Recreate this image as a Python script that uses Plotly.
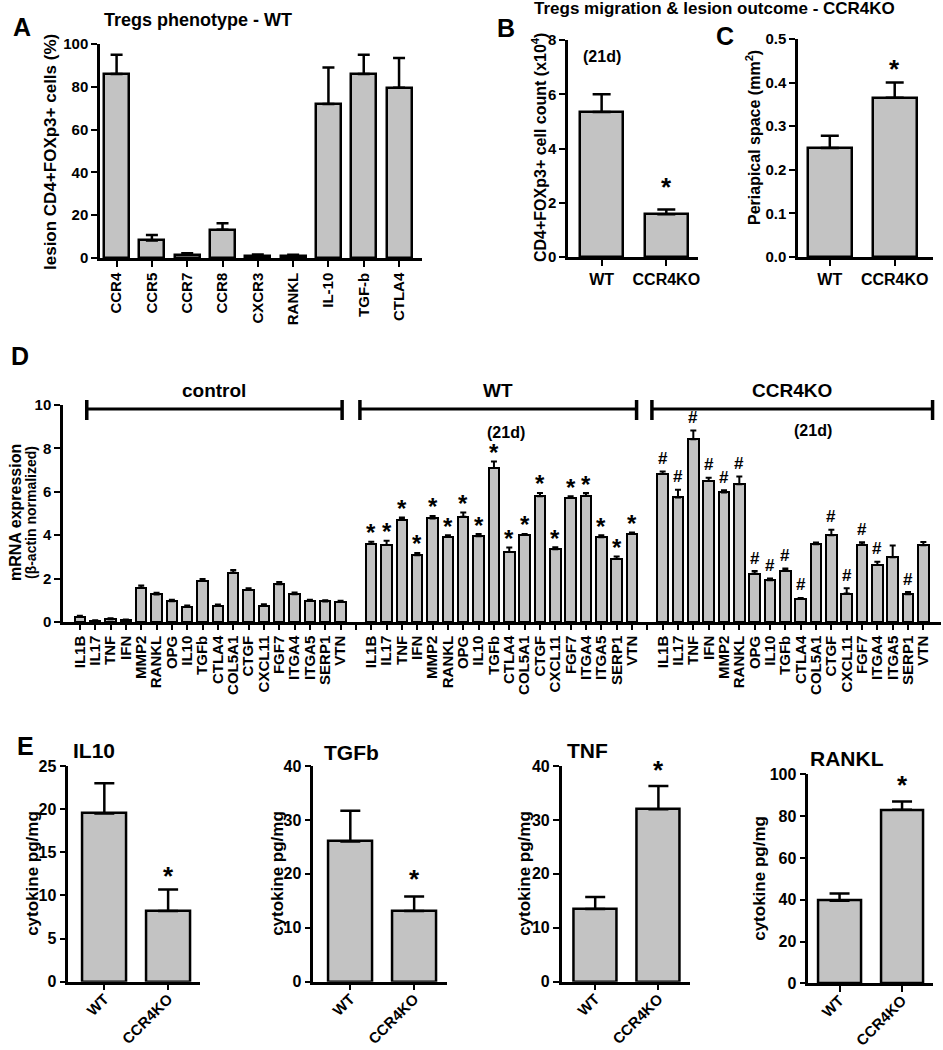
import plotly.graph_objects as go

W, H = 943, 1050
FONT = "Liberation Sans, Arial, sans-serif"

# ---------------- data ----------------
a_cats = ["CCR4", "CCR5", "CCR7", "CCR8", "CXCR3", "RANKL", "IL-10", "TGF-b", "CTLA4"]
a_vals = [86, 8.2, 1.5, 13.2, 1.0, 1.0, 72, 86, 79.5]
a_err = [9, 2.5, 0.7, 3.0, 0.6, 0.5, 17, 9, 14]

bc_groups = ["WT", "CCR4KO"]
b_vals = [5.35, 1.58]
b_err = [0.65, 0.17]
c_vals = [0.25, 0.365]
c_err = [0.028, 0.035]

genes = ["IL1B", "IL17", "TNF", "IFN", "MMP2", "RANKL", "OPG", "IL10", "TGFb",
         "CTLA4", "COL5A1", "CTGF", "CXCL11", "FGF7", "ITGA4", "ITGA5", "SERP1", "VTN"]
d_control = [0.23, 0.05, 0.13, 0.08, 1.58, 1.27, 0.96, 0.70, 1.90, 0.75, 2.28, 1.47,
             0.75, 1.74, 1.28, 0.97, 0.95, 0.93]
d_control_err = [0.06, 0.03, 0.04, 0.03, 0.10, 0.08, 0.06, 0.06, 0.08, 0.06, 0.12, 0.09,
                 0.07, 0.10, 0.08, 0.05, 0.05, 0.05]
d_wt = [3.60, 3.55, 4.72, 3.08, 4.77, 3.92, 4.85, 3.95, 7.10, 3.23, 4.03, 5.80,
        3.35, 5.72, 5.82, 3.90, 2.90, 4.07]
d_wt_err = [0.10, 0.20, 0.10, 0.10, 0.12, 0.08, 0.20, 0.10, 0.30, 0.20, 0.03, 0.15,
            0.10, 0.08, 0.12, 0.10, 0.12, 0.06]
d_ko = [6.82, 5.74, 8.42, 6.50, 5.97, 6.35, 2.23, 1.92, 2.37, 1.08, 3.58, 4.00,
        1.31, 3.57, 2.63, 2.98, 1.28, 3.54]
d_ko_err = [0.12, 0.35, 0.40, 0.15, 0.10, 0.35, 0.12, 0.08, 0.10, 0.03, 0.08, 0.25,
            0.25, 0.10, 0.15, 0.55, 0.10, 0.15]
d_wt_sig = ["*"] * 18
d_ko_sig = ["#", "#", "#", "#", "#", "#", "#", "#", "#", "#", "", "#", "#", "#", "#", "", "#", ""]

e_names = ["IL10", "TGFb", "TNF", "RANKL"]
e_wt = [19.5, 26.0, 13.5, 39.5]
e_wt_err = [3.5, 5.7, 2.2, 3.5]
e_ko = [8.2, 13.1, 32.0, 83.0]
e_ko_err = [2.5, 2.7, 4.3, 4.0]
e_ymax = [25, 40, 40, 100]
e_dtick = [5, 10, 10, 20]

# ---------------- helpers ----------------
def px(x):
    return x / W

def py(y):
    return 1 - y / H

def tfont(size=14):
    return dict(family=FONT, size=size, color="black", weight="bold")

def axis(dom, rng, **kw):
    d = dict(domain=dom, range=rng, showline=True, linecolor="black", linewidth=2.5,
             ticks="outside", ticklen=6, tickwidth=2, tickcolor="black",
             showgrid=False, zeroline=False, tickfont=tfont(14), fixedrange=True,
             automargin=False)
    d.update(kw)
    return d

BAR_FILL = "#c3c3c3"

def bars(x, y, err, xa, ya, width, lw=2.5, cap=6, eth=2.5):
    return go.Bar(x=x, y=y, xaxis=xa, yaxis=ya, width=width,
                  marker=dict(color=BAR_FILL, line=dict(color="black", width=lw)),
                  error_y=dict(type="data", symmetric=False, array=err,
                               arrayminus=[0] * len(err), color="black",
                               thickness=eth, width=cap),
                  showlegend=False, hoverinfo="skip")

fig = go.Figure()
ann = []
shapes = []

def star(xa, ya, x, y, text, shift, size=24):
    ann.append(dict(xref=xa, yref=ya, x=x, y=y, text=text, showarrow=False,
                    yanchor="middle", yshift=shift, font=tfont(size)))

def label(x, y, text, size, angle=0, xanchor="center"):
    ann.append(dict(xref="paper", yref="paper", x=px(x), y=py(y), text=text,
                    showarrow=False, textangle=angle, xanchor=xanchor,
                    yanchor="middle", font=tfont(size)))

# ---------------- Panel A ----------------
fig.add_trace(bars(a_cats, a_vals, a_err, "x", "y", 0.71, cap=6))
layout = dict(
    xaxis=axis([px(100), px(422)], [-0.47, 8.65], anchor="y", tickangle=-90,
               tickfont=tfont(15)),
    yaxis=axis([py(258), py(44)], [0, 100], anchor="x", dtick=20, tickfont=tfont(15)),
)

# ---------------- Panel B ----------------
fig.add_trace(bars(bc_groups, b_vals, b_err, "x2", "y2", 0.66, cap=9))
layout["xaxis2"] = axis([px(568), px(698)], [-0.52, 1.49], anchor="y2", tickfont=tfont(16))
layout["yaxis2"] = axis([py(257), py(40)], [0, 8], anchor="x2", dtick=2, tickfont=tfont(15))
star("x2", "y2", "CCR4KO", b_vals[1] + b_err[1], "*", 23, size=26)

# ---------------- Panel C ----------------
fig.add_trace(bars(bc_groups, c_vals, c_err, "x3", "y3", 0.68, cap=9))
layout["xaxis3"] = axis([px(798), px(933)], [-0.49, 1.59], anchor="y3", tickfont=tfont(16))
layout["yaxis3"] = axis([py(257), py(39)], [0, 0.5], anchor="x3", dtick=0.1,
                        tickformat=".1f", tickfont=tfont(15))
star("x3", "y3", "CCR4KO", c_vals[1] + c_err[1], "*", 14, size=26)

# ---------------- Panel D ----------------
n = len(genes)
pos_c = list(range(n))
pos_w = [i + n + 1 for i in range(n)]
pos_k = [i + 2 * n + 2 for i in range(n)]
fig.add_trace(bars(pos_c, d_control, d_control_err, "x4", "y4", 0.68, lw=2, cap=3, eth=2))
fig.add_trace(bars(pos_w, d_wt, d_wt_err, "x4", "y4", 0.68, lw=2, cap=3, eth=2))
fig.add_trace(bars(pos_k, d_ko, d_ko_err, "x4", "y4", 0.68, lw=2, cap=3, eth=2))
tickvals = pos_c + pos_w + pos_k
ticktext = genes + genes + genes
layout["xaxis4"] = axis([px(63), px(941)], [-1.1, 3 * n + 1 + 1.15], anchor="y4",
                        tickvals=tickvals, ticktext=ticktext, tickangle=-90,
                        tickfont=tfont(15), ticklen=5,
                        minor=dict(tickvals=[n, 2 * n + 1], ticks="outside", ticklen=5,
                                   tickwidth=2, tickcolor="black", showgrid=False))
layout["yaxis4"] = axis([py(622), py(405)], [0, 10], anchor="x4", dtick=2,
                        tickfont=tfont(15))
for x, v, e, s in zip(pos_w, d_wt, d_wt_err, d_wt_sig):
    if s:
        star("x4", "y4", x, v + e, s, 9, size=24)
for x, v, e, s in zip(pos_k, d_ko, d_ko_err, d_ko_sig):
    if s:
        star("x4", "y4", x, v + e, s, 13, size=17)

# group brackets (x in slot units)
brackets = [("control", 0.45, 17.1), ("WT", 18.26, 36.3), ("CCR4KO", 37.3, 55.6)]
for name, x0, x1 in brackets:
    shapes.append(dict(type="line", xref="x4", yref="paper", x0=x0, x1=x1,
                       y0=py(409), y1=py(409), line=dict(color="black", width=3)))
    for xx in (x0, x1):
        shapes.append(dict(type="line", xref="x4", yref="paper", x0=xx, x1=xx,
                           y0=py(400), y1=py(420), line=dict(color="black", width=3.5)))
    ann.append(dict(xref="x4", yref="paper", x=(x0 + x1) / 2, y=py(390), text=name,
                    showarrow=False, yanchor="middle", font=tfont(19)))
ann.append(dict(xref="x4", yref="paper", x=27.8, y=py(432), text="(21d)",
                showarrow=False, yanchor="middle", font=tfont(16)))
ann.append(dict(xref="x4", yref="paper", x=47.8, y=py(431), text="(21d)",
                showarrow=False, yanchor="middle", font=tfont(16)))

# ---------------- Panel E ----------------
e_dom_x = [(68.3, 200), (313.3, 446.7), (561.7, 690), (808.3, 933.3)]
e_dom_y = [(766, 981.7), (766, 981.7), (766, 981.7), (774.3, 983.3)]
e_rng_x = [(-0.565, 1.50), (-0.58, 1.51), (-0.53, 1.50), (-0.50, 1.50)]
e_star_shift = [13, 18, 16, 16]
for k in range(4):
    xa, ya = f"x{5 + k}", f"y{5 + k}"
    fig.add_trace(go.Bar(x=bc_groups, y=[e_wt[k], e_ko[k]], xaxis=xa, yaxis=ya, width=0.68,
                         marker=dict(color=BAR_FILL, line=dict(color="black", width=2.5)),
                         error_y=dict(type="data", symmetric=False,
                                      array=[e_wt_err[k], e_ko_err[k]], arrayminus=[0, 0],
                                      color="black", thickness=2.5, width=10),
                         showlegend=False, hoverinfo="skip"))
    layout[f"xaxis{5 + k}"] = axis([px(e_dom_x[k][0]), px(e_dom_x[k][1])], list(e_rng_x[k]),
                                   anchor=ya, tickangle=-45, tickfont=tfont(15),
                                   ticklabelstandoff=-6)
    layout[f"yaxis{5 + k}"] = axis([py(e_dom_y[k][1]), py(e_dom_y[k][0])], [0, e_ymax[k]],
                                   anchor=xa, dtick=e_dtick[k], tickfont=tfont(16))
    star(xa, ya, "CCR4KO", e_ko[k] + e_ko_err[k], "*", e_star_shift[k], size=26)

# ---------------- titles & labels ----------------
label(22, 27, "A", 25)
label(506, 28, "B", 25)
label(725, 36, "C", 25)
label(20, 356, "D", 25)
label(25, 746, "E", 25)

label(198, 20, "Tregs phenotype - WT", 18)
label(714, 9, "Tregs migration &amp; lesion outcome - CCR4KO", 17)
label(602, 56, "(21d)", 16)

label(50, 152, "lesion CD4+FOXp3+ cells (%)", 17, angle=-90)
label(539, 148, "CD4+FOXp3+ cell count (x10<sup>4</sup>)", 16, angle=-90)
label(753, 138, "Periapical space (mm<sup>2</sup>)", 16, angle=-90)
label(15, 513, "mRNA expression", 16, angle=-90)
label(31, 513, "(β-actin normalized)", 14, angle=-90)

e_title_pos = [(94, 750), (351, 752), (587, 750), (847, 758)]
e_ylab_x = [33, 278, 525, 760]
for k in range(4):
    label(e_title_pos[k][0], e_title_pos[k][1], e_names[k], 21)
    label(e_ylab_x[k], (e_dom_y[k][0] + e_dom_y[k][1]) / 2, "cytokine pg/mg", 17, angle=-90)

fig.update_layout(**layout)
fig.update_layout(width=W, height=H, margin=dict(l=0, r=0, t=0, b=0, autoexpand=False),
                  paper_bgcolor="white", plot_bgcolor="white",
                  annotations=ann, shapes=shapes, bargap=0, showlegend=False,
                  font=dict(family=FONT, color="black"))

fig.write_html("out.html", config={"displayModeBar": False},
               post_script="document.body.style.margin='0';document.body.style.padding='0';"
                           "document.body.style.overflow='hidden';")
